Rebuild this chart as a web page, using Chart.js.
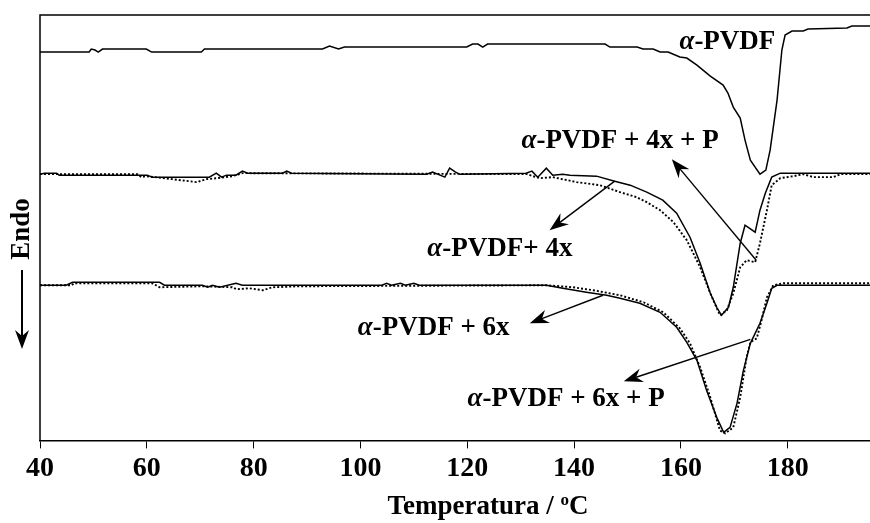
<!DOCTYPE html>
<html>
<head>
<meta charset="utf-8">
<script src="https://cdn.jsdelivr.net/npm/chart.js@4.4.1/dist/chart.umd.min.js"></script>
<style>
  html, body { margin: 0; padding: 0; background: #fff; }
  #wrap { width: 870px; height: 523px; }
</style>
</head>
<body>
<div id="wrap"><canvas id="dscChart"></canvas></div>
<script>
const serif = "'Liberation Serif', 'DejaVu Serif', serif";

// α-PVDF
const tempA = [40, 49.2, 49.6, 50.3, 50.9, 51.7, 59.9, 60.9, 70.2, 70.8, 92.9, 94.2, 95.9, 97.0, 119.9, 121.0, 122.0, 122.9, 123.8, 145.8, 146.7, 151.8, 152.9, 154.8, 156.1, 157.6, 159.8, 161.1, 163.0, 165.5, 167.9, 168.8, 169.8, 171.1, 172.0, 173.0, 174.8, 175.9, 176.7, 178.0, 178.9, 179.5, 180.8, 182.9, 183.8, 191.1, 192.0, 195.4];
const fluxoA = [38.8, 38.8, 39.1, 39.0, 38.8, 39.1, 39.1, 38.8, 38.8, 39.1, 39.1, 39.4, 39.1, 39.3, 39.3, 39.6, 39.6, 39.3, 39.6, 39.6, 39.3, 39.3, 39.1, 39.1, 38.8, 38.8, 38.3, 38.2, 37.5, 36.4, 35.5, 34.7, 33.3, 32.2, 30.0, 28.0, 26.6, 27.0, 29.0, 34.0, 39.0, 40.5, 40.9, 40.9, 41.1, 41.2, 41.4, 41.4];

// α-PVDF + 4x
const tempB = [40, 40.8, 43.1, 43.6, 60.1, 61.0, 71.7, 73.0, 74.0, 74.9, 76.7, 77.9, 78.9, 85.4, 86.2, 87.1, 112.4, 113.5, 115.8, 116.7, 117.8, 118.6, 131.0, 132.1, 133.2, 134.8, 136.0, 137.9, 139.2, 144.2, 147.6, 150.5, 153.6, 156.6, 159.2, 161.7, 163.6, 165.5, 166.7, 167.6, 168.9, 169.8, 171.1, 172.0, 173.9, 174.8, 175.8, 177.0, 178.6, 195.4];
const fluxoB = [26.6, 26.7, 26.7, 26.5, 26.5, 26.3, 26.3, 26.7, 26.3, 26.5, 26.5, 26.9, 26.7, 26.7, 26.9, 26.7, 26.6, 26.8, 26.3, 27.2, 26.8, 26.6, 26.7, 26.9, 26.3, 27.2, 26.5, 26.6, 26.5, 26.4, 25.9, 25.5, 24.8, 24.0, 22.7, 20.3, 17.7, 14.7, 13.3, 12.5, 13.3, 15.3, 19.7, 21.5, 20.8, 23.0, 24.7, 26.3, 26.7, 26.7];

// α-PVDF + 4x + P
const tempBP = [40, 58.2, 59.0, 59.9, 64.8, 69.3, 71.2, 73.2, 76.0, 77.9, 131.2, 132.3, 133.6, 136.0, 140.5, 144.8, 148.6, 151.7, 153.6, 156.1, 158.6, 161.1, 163.6, 165.5, 167.3, 168.6, 169.8, 171.1, 172.3, 173.9, 174.8, 176.1, 177.0, 178.6, 181.1, 182.9, 184.8, 188.5, 189.9, 195.4];
const fluxoBP = [26.6, 26.6, 26.3, 26.4, 26.1, 25.8, 26.1, 26.2, 26.4, 26.7, 26.6, 26.4, 26.2, 26.3, 25.8, 25.5, 24.8, 24.3, 23.8, 23.0, 21.8, 20.0, 17.3, 14.7, 12.5, 13.0, 14.7, 17.3, 18.0, 17.8, 19.7, 23.0, 25.5, 26.2, 26.4, 26.6, 26.3, 26.3, 26.6, 26.6];

// α-PVDF + 6x
const tempC = [40, 44.9, 46.1, 62.4, 63.3, 70.4, 71.4, 72.3, 73.6, 76.7, 77.9, 104.0, 104.9, 105.8, 107.5, 108.4, 110.0, 111.0, 134.8, 137.9, 142.3, 146.1, 148.6, 152.3, 156.1, 159.2, 161.1, 163.0, 164.8, 166.7, 168.0, 169.2, 170.5, 171.7, 173.0, 174.8, 176.1, 177.0, 178.0, 195.4];
const fluxoC = [15.5, 15.5, 15.8, 15.8, 15.5, 15.5, 15.3, 15.5, 15.3, 15.7, 15.5, 15.5, 15.7, 15.5, 15.7, 15.5, 15.7, 15.5, 15.5, 15.2, 14.8, 14.5, 14.2, 13.7, 12.8, 11.3, 9.8, 8.0, 5.0, 2.3, 0.8, 1.3, 3.7, 7.0, 9.7, 11.7, 13.7, 15.2, 15.5, 15.5];

// α-PVDF + 6x + P
const tempCP = [40, 45.9, 46.4, 61.0, 62.4, 70.4, 76.0, 76.8, 79.2, 81.7, 83.5, 88.6, 134.8, 139.8, 143.6, 148.6, 153.0, 156.7, 159.8, 161.7, 163.6, 165.5, 167.3, 168.3, 169.8, 171.1, 172.3, 173.0, 174.2, 175.1, 176.1, 177.3, 179.2, 195.4];
const fluxoCP = [15.5, 15.5, 15.7, 15.7, 15.3, 15.4, 15.3, 15.1, 15.2, 15.0, 15.3, 15.4, 15.5, 15.3, 15.0, 14.5, 13.8, 12.8, 11.2, 9.7, 7.3, 4.3, 1.0, 0.7, 1.3, 4.3, 8.3, 9.8, 10.2, 12.0, 14.3, 15.5, 15.7, 15.7];

const amostras = ['α-PVDF', 'α-PVDF+ 4x', 'α-PVDF + 4x + P', 'α-PVDF + 6x', 'α-PVDF + 6x + P'];
const tracejado = [false, false, true, false, true];

// label centres and arrows (data units)
const rotuloT = [168.7, 126.1, 148.6, 113.7, 138.5];
const rotuloV = [39.1, 18.4, 29.2, 10.5, 3.4];
const setaDeT = [null, 147.6, 174.1, 145.4, 173.0];
const setaDeV = [null, 25.9, 18.0, 14.5, 10.1];
const setaAteT = [null, 135.4, 158.3, 131.7, 149.3];
const setaAteV = [null, 21.0, 28.1, 11.7, 5.9];

const xTicks = [40, 60, 80, 100, 120, 140, 160, 180];

function serie(t, f) {
    return t.map((v, i) => ({ x: v, y: f[i] }));
}

const series = [serie(tempA, fluxoA), serie(tempB, fluxoB), serie(tempBP, fluxoBP), serie(tempC, fluxoC), serie(tempCP, fluxoCP)];

function ponta(ctx, x0, y0, x1, y1) {
    const ang = Math.atan2(y1 - y0, x1 - x0);
    const len = 19, half = 7, notch = 13;
    ctx.beginPath();
    ctx.moveTo(x0, y0);
    ctx.lineTo(x1 - Math.cos(ang) * notch, y1 - Math.sin(ang) * notch);
    ctx.stroke();
    ctx.save();
    ctx.translate(x1, y1);
    ctx.rotate(ang);
    ctx.beginPath();
    ctx.moveTo(0, 0);
    ctx.lineTo(-len, -half);
    ctx.lineTo(-notch, 0);
    ctx.lineTo(-len, half);
    ctx.closePath();
    ctx.fill();
    ctx.restore();
}

function rotulo(ctx, texto, cx, baseY, size) {
    const fAlpha = 'italic bold ' + size + 'px ' + serif;
    const fResto = 'bold ' + size + 'px ' + serif;
    const alfa = texto.charAt(0), resto = texto.slice(1);
    ctx.font = fAlpha;
    const wA = ctx.measureText(alfa).width;
    ctx.font = fResto;
    const wR = ctx.measureText(resto).width;
    const x0 = cx - (wA + wR) / 2;
    ctx.textAlign = 'left';
    ctx.textBaseline = 'alphabetic';
    ctx.font = fAlpha;
    ctx.fillText(alfa, x0, baseY);
    ctx.font = fResto;
    ctx.fillText(resto, x0 + wA, baseY);
}

const anotacoes = {
    id: 'anotacoes',
    afterDatasetsDraw(chart) {
        const { ctx, chartArea: a, scales: { x, y } } = chart;
        ctx.save();
        ctx.strokeStyle = '#000';
        ctx.fillStyle = '#000';
        // frame left + top
        ctx.lineWidth = 1.5;
        ctx.beginPath();
        ctx.moveTo(a.left, a.bottom);
        ctx.lineTo(a.left, a.top);
        ctx.lineTo(a.right, a.top);
        ctx.stroke();

        ctx.lineWidth = 1.4;
        amostras.forEach((nome, i) => {
            rotulo(ctx, nome, x.getPixelForValue(rotuloT[i]), y.getPixelForValue(rotuloV[i]), 27);
            if (setaDeT[i] !== null) {
                ponta(ctx, x.getPixelForValue(setaDeT[i]), y.getPixelForValue(setaDeV[i]),
                    x.getPixelForValue(setaAteT[i]), y.getPixelForValue(setaAteV[i]));
            }
        });

        // Endo + arrow
        const ex = a.left - 18;
        ctx.save();
        ctx.translate(ex, 229);
        ctx.rotate(-Math.PI / 2);
        ctx.font = 'bold 27px ' + serif;
        ctx.textAlign = 'center';
        ctx.textBaseline = 'middle';
        ctx.fillText('Endo', 0, 0);
        ctx.restore();
        ctx.lineWidth = 2;
        ponta(ctx, ex, 270, ex, 349);

        // x title with superscript o
        const t1 = 'Temperatura / ', t2 = 'o', t3 = 'C';
        const fBig = 'bold 27px ' + serif, fSmall = 'bold 17px ' + serif;
        ctx.font = fBig;
        const w1 = ctx.measureText(t1).width, w3 = ctx.measureText(t3).width;
        ctx.font = fSmall;
        const w2 = ctx.measureText(t2).width;
        let tx = 488 - (w1 + w2 + w3) / 2;
        const ty = 514;
        ctx.textAlign = 'left';
        ctx.textBaseline = 'alphabetic';
        ctx.font = fBig;
        ctx.fillText(t1, tx, ty);
        ctx.font = fSmall;
        ctx.fillText(t2, tx + w1, ty - 9);
        ctx.font = fBig;
        ctx.fillText(t3, tx + w1 + w2, ty);
        ctx.restore();
    }
};

window.onload = function() {
    const ctx = document.getElementById('dscChart').getContext('2d');
    new Chart(ctx, {
        type: 'line',
        data: {
            datasets: amostras.map((nome, i) => ({
                label: nome,
                data: series[i],
                borderColor: '#000',
                borderWidth: tracejado[i] ? 1.9 : 1.5,
                borderDash: tracejado[i] ? [2, 2] : [],
                pointRadius: 0,
                tension: 0,
                fill: false
            }))
        },
        options: {
            responsive: true,
            maintainAspectRatio: false,
            animation: false,
            layout: { padding: { left: 40, top: 15, right: 0, bottom: 33 } },
            plugins: {
                legend: { display: false },
                tooltip: { enabled: false }
            },
            scales: {
                x: {
                    type: 'linear',
                    min: 40,
                    max: 195.4,
                    afterBuildTicks: (s) => { s.ticks = xTicks.map(v => ({ value: v })); },
                    grid: { display: true, drawOnChartArea: false, drawTicks: true, tickLength: 8, color: '#000', lineWidth: 1 },
                    border: { display: true, color: '#000', width: 1.5 },
                    ticks: {
                        color: '#000',
                        padding: 4,
                        maxRotation: 0,
                        font: { family: serif, size: 28, weight: 'bold' }
                    }
                },
                y: {
                    display: false,
                    min: 0,
                    max: 42.5
                }
            }
        },
        plugins: [anotacoes]
    });
};
</script>
</body>
</html>
